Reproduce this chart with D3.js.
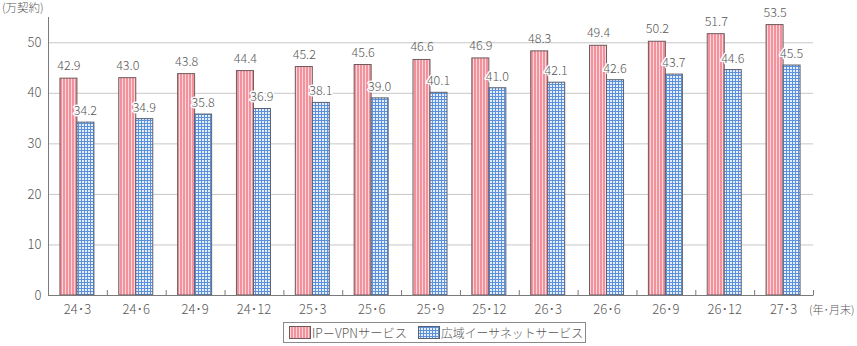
<!DOCTYPE html>
<html><head><meta charset="utf-8">
<script src="https://cdn.jsdelivr.net/npm/d3@7"></script>
<style>body{margin:0;background:#fff;}svg{display:block;font-family:"Noto Sans CJK JP","Noto Sans",sans-serif;}</style>
</head><body><svg id="c" width="857" height="346"></svg>
<script>
const categories = ["24･3","24･6","24･9","24･12","25･3","25･6","25･9","25･12","26･3","26･6","26･9","26･12","27･3"];
const ipvpn = [42.9,43.0,43.8,44.4,45.2,45.6,46.6,46.9,48.3,49.4,50.2,51.7,53.5];
const ether = [34.2,34.9,35.8,36.9,38.1,39.0,40.1,41.0,42.1,42.6,43.7,44.6,45.5];
const yTicks = [0,10,20,30,40,50];
const seriesNames = ["IP－VPNサービス","広域イーサネットサービス"];

const svg = d3.select("#c");
const m = {l:48, r:813, t:17, b:295};
const x = d3.scaleBand().domain(categories).range([m.l, m.r]).paddingInner(0).paddingOuter(0);
const y = d3.scaleLinear().domain([0,55]).range([m.b, m.t]);
const txt = "#595757";
const fw = 300;

const defs = svg.append("defs");
const p1 = defs.append("pattern").attr("id","pk").attr("patternUnits","userSpaceOnUse").attr("width",3).attr("height",3);
p1.append("rect").attr("width",3).attr("height",3).attr("fill","#fcd6da");
p1.append("rect").attr("width",2).attr("height",3).attr("fill","#f2929c");
const p2 = defs.append("pattern").attr("id","bl").attr("patternUnits","userSpaceOnUse").attr("width",3).attr("height",3);
p2.append("rect").attr("width",3).attr("height",3).attr("fill","#e6eefa");
p2.append("rect").attr("width",1).attr("height",3).attr("fill","#5b90dc");
p2.append("rect").attr("width",3).attr("height",1).attr("fill","#5b90dc");

// gridlines
svg.append("g").selectAll("line").data(yTicks.filter(d=>d>0)).join("line")
  .attr("x1",m.l).attr("x2",m.r).attr("y1",d=>y(d)+0.5).attr("y2",d=>y(d)+0.5)
  .attr("stroke","#c8c8c8").attr("stroke-width",1);

// y axis
const ya = svg.append("g").attr("transform",`translate(${m.l+0.5},0)`)
  .call(d3.axisLeft(y).tickValues(yTicks).tickSize(0).tickPadding(7));
ya.select(".domain").remove();
ya.selectAll("text").attr("fill",txt).attr("font-size",13).attr("font-weight",fw).attr("font-family","'Noto Sans CJK JP',sans-serif");
svg.append("line").attr("x1",m.l+0.5).attr("x2",m.l+0.5).attr("y1",y(55)).attr("y2",m.b).attr("stroke","#7a7a7a");

const bw = 17;
const g = svg.append("g");
categories.forEach((c,i)=>{
  const cx = x(c) + x.bandwidth()/2 - 0.5;
  g.append("rect").attr("x",cx-bw).attr("y",y(ipvpn[i])).attr("width",bw).attr("height",y(0)-y(ipvpn[i]))
    .attr("fill","url(#pk)").attr("stroke","#6e5a5c").attr("stroke-width",1);
  g.append("rect").attr("x",cx).attr("y",y(ether[i])).attr("width",bw).attr("height",y(0)-y(ether[i]))
    .attr("fill","url(#bl)").attr("stroke","#5a6170").attr("stroke-width",1);
});
// labels
categories.forEach((c,i)=>{
  const cx = x(c) + x.bandwidth()/2 - 0.5;
  g.append("text").attr("x",cx-bw/2+0.5).attr("y",y(ipvpn[i])-8).attr("text-anchor","middle")
    .attr("font-size",12.5).attr("font-weight",fw).attr("fill",txt).text(ipvpn[i].toFixed(1));
  g.append("text").attr("x",cx+bw/2).attr("y",y(ether[i])-7).attr("text-anchor","middle")
    .attr("font-size",12.5).attr("font-weight",fw).attr("fill",txt).attr("stroke","#fff").attr("stroke-width",3)
    .attr("paint-order","stroke").attr("stroke-linejoin","round").text(ether[i].toFixed(1));
});

// x axis
svg.append("line").attr("x1",m.l).attr("x2",m.r+0.5).attr("y1",m.b+0.5).attr("y2",m.b+0.5).attr("stroke","#7a7a7a");
const xa = svg.append("g").attr("transform",`translate(0,${m.b})`)
  .call(d3.axisBottom(x).tickSize(0).tickPadding(10));
xa.select(".domain").remove();
xa.selectAll("text").attr("fill",txt).attr("font-size",13).attr("font-weight",fw).attr("font-family","'Noto Sans CJK JP',sans-serif");
svg.append("g").selectAll("line").data(categories).join("line")
  .attr("x1",d=>x(d)+x.bandwidth()+0.5).attr("x2",d=>x(d)+x.bandwidth()+0.5)
  .attr("y1",m.b-5).attr("y2",m.b).attr("stroke","#7a7a7a");

svg.append("text").attr("x",2).attr("y",12).attr("font-size",11.5).attr("font-weight",fw).attr("fill",txt)
  .text("(万契約)");
svg.append("text").attr("x",809).attr("y",314).attr("font-size",11).attr("font-weight",fw).attr("fill",txt)
  .text("(年･月末)");

// legend
const lg = svg.append("g");
lg.append("rect").attr("x",283.5).attr("y",322.5).attr("width",302).attr("height",20).attr("fill","#fff").attr("stroke","#8a8a8a");
lg.append("rect").attr("x",289.5).attr("y",326.5).attr("width",21).attr("height",12).attr("fill","url(#pk)").attr("stroke","#6e5a5c");
lg.append("text").attr("x",312).attr("y",337.5).attr("font-size",12.5).attr("font-weight",fw).attr("fill",txt)
  .attr("textLength",95).attr("lengthAdjust","spacingAndGlyphs").text(seriesNames[0]);
lg.append("rect").attr("x",418.5).attr("y",326.5).attr("width",21).attr("height",12).attr("fill","url(#bl)").attr("stroke","#5a6170");
lg.append("text").attr("x",441).attr("y",337.5).attr("font-size",12.5).attr("font-weight",fw).attr("fill",txt)
  .attr("textLength",142).attr("lengthAdjust","spacingAndGlyphs").text(seriesNames[1]);
</script></body></html>
